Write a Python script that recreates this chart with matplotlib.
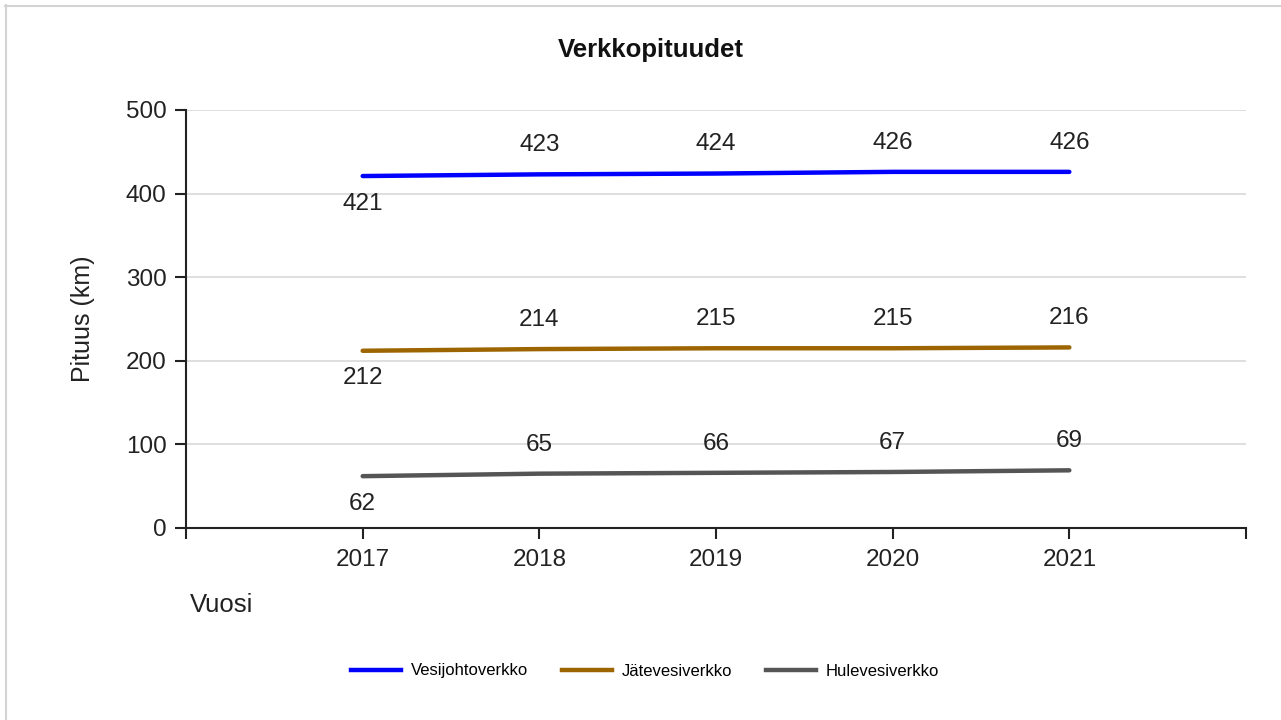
import matplotlib.pyplot as plt
from matplotlib.lines import Line2D

years = ['2017', '2018', '2019', '2020', '2021']
vesijohto = [421, 423, 424, 426, 426]
jatevesi = [212, 214, 215, 215, 216]
hulevesi = [62, 65, 66, 67, 69]
series_names = ['Vesijohtoverkko', 'Jätevesiverkko', 'Hulevesiverkko']
series_colors = ['#0000ff', '#9c6500', '#555555']

plt.rcParams['font.family'] = ['Liberation Sans', 'DejaVu Sans']

fig = plt.figure(figsize=(12.81, 7.2), dpi=100)
ax = fig.add_axes([186 / 1281, 1 - 528 / 720, (1246 - 186) / 1281, (528 - 110) / 720])

x = list(range(1, len(years) + 1))
for vals, name, col in zip([vesijohto, jatevesi, hulevesi], series_names, series_colors):
    ax.plot(x, vals, color=col, linewidth=3.2, solid_capstyle='round', label=name, zorder=3)
    for i, (xi, v) in enumerate(zip(x, vals)):
        if i == 0:
            ax.annotate(str(v), (xi, v), xytext=(0, -12), textcoords='offset points',
                        ha='center', va='top', fontsize=17.5, color='#222222')
        else:
            ax.annotate(str(v), (xi, v), xytext=(0, 13), textcoords='offset points',
                        ha='center', va='bottom', fontsize=17.5, color='#222222')

ax.set_xlim(0, 6)
ax.set_ylim(0, 500)
ax.set_xticks(range(0, 7))
ax.set_xticklabels([''] + years + [''])
ax.set_yticks(range(0, 501, 100))
ax.tick_params(axis='both', labelsize=17.5, colors='#222222', length=8, width=1.5)
ax.tick_params(axis='x', pad=7)
ax.tick_params(axis='y', pad=6)
ax.yaxis.grid(True, color='#d9d9d9', linewidth=1.2)
ax.set_axisbelow(True)
for s in ['top', 'right']:
    ax.spines[s].set_visible(False)
for s in ['left', 'bottom']:
    ax.spines[s].set_linewidth(1.5)
    ax.spines[s].set_color('#222222')

ax.set_ylabel('Pituus (km)', fontsize=18, color='#222222')
ax.yaxis.set_label_coords(-0.086, 0.5)
fig.text(190 / 1281, 1 - 605 / 720, 'Vuosi', fontsize=18.5, color='#222222', va='center', ha='left')
fig.text(651 / 1281, 1 - 50 / 720, 'Verkkopituudet', fontsize=18.5, fontweight='bold',
         ha='center', va='center', color='#111111')

handles = [Line2D([0], [0], color=c, linewidth=3.2) for c in series_colors]
fig.legend(handles, series_names, loc='center', bbox_to_anchor=(645 / 1281, 1 - 671 / 720),
           ncol=3, frameon=False, fontsize=12, handlelength=3, columnspacing=2, handletextpad=0.6)

# light border at top and left
fig.add_artist(Line2D([5 / 1281, 1], [1 - 6 / 720, 1 - 6 / 720], color='#d3d3d3', linewidth=1.5))
fig.add_artist(Line2D([6 / 1281, 6 / 1281], [0, 1 - 5 / 720], color='#d3d3d3', linewidth=1.5))

fig.savefig('out.png', dpi=100)
